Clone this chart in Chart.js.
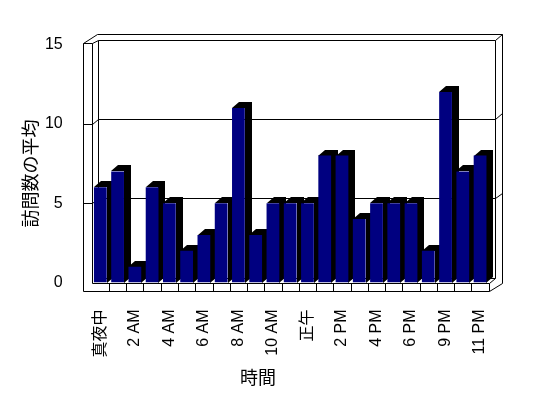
<!DOCTYPE html>
<html>
<head>
<meta charset="utf-8">
<script src="https://cdn.jsdelivr.net/npm/chart.js@4/dist/chart.umd.min.js"></script>
<style>
  body { margin: 0; background: #fff; }
</style>
</head>
<body>
<canvas id="visits" width="548" height="398"></canvas>
<script>
const hours = ['真夜中', '1 AM', '2 AM', '3 AM', '4 AM', '5 AM', '6 AM', '7 AM', '8 AM', '9 AM', '10 AM', '11 AM',
    '正午', '1 PM', '2 PM', '3 PM', '4 PM', '5 PM', '6 PM', '7 PM', '9 PM', '10 PM', '11 PM'];
const avgVisits = [6, 7, 1, 6, 5, 2, 3, 5, 11, 3, 5, 5, 5, 8, 8, 4, 5, 5, 5, 2, 12, 7, 8];
const yTicks = [0, 5, 10, 15];
const xTitle = '時間';
const yTitle = '訪問数の平均';

const tickFont = "'Liberation Sans', 'Noto Sans CJK JP', sans-serif";

function px(v) {
    return Math.round(v) + 0.5;
}

// excel-style 3d walls, floor and bar sides
const frame3d = {
    id: 'frame3d',
    beforeDatasetsDraw(chart) {
        let ctx = chart.ctx;
        let y = chart.scales.y;
        let L = chart.chartArea.left, R = chart.chartArea.right;
        let B = y.getPixelForValue(0), T = y.getPixelForValue(15);
        let dx = 6.5, dy = -5, ox = 13, oy = -10.5, wl = 8.7, fl = 8.5;

        function line(pts) {
            ctx.beginPath();
            pts.forEach(function (p, i) {
                if (i === 0) ctx.moveTo(px(p[0]), px(p[1]));
                else ctx.lineTo(px(p[0]), px(p[1]));
            });
            ctx.stroke();
        }

        ctx.save();
        ctx.strokeStyle = '#000';
        ctx.lineWidth = 1;

        // left wall
        line([[L - wl, B + fl], [L - wl, T - 1.5], [L, T - 1.5], [L, B]]);
        line([[L - wl, T - 1.5], [L + 5, T + oy], [R + ox, T + oy], [R + ox, B], [R, B + fl], [L - wl, B + fl]]);
        // back wall inner face
        line([[L, T - 1.5], [L + dx, T + dy], [R + dx, T + dy], [R + ox, T + oy]]);
        line([[L + dx, T + dy], [L + dx, B + dy], [R + dx, B + dy], [R + dx, T + dy]]);
        line([[R, B], [R + dx, B + dy]]);

        // gridlines
        yTicks.slice(1, -1).forEach(function (v) {
            let g = y.getPixelForValue(v);
            line([[L - wl, g], [L, g], [L + dx, g + dy], [R + dx, g + dy], [R + ox, g + oy]]);
        });

        // floor front face with cells
        line([[L, B], [R, B], [R, B + fl]]);
        let cw = (R - L) / hours.length;
        for (let i = 1; i < hours.length; i++) {
            line([[L + i * cw, B], [L + i * cw, B + fl]]);
        }

        // bar sides and tops
        let bdx = 7, bdy = -6;
        ctx.fillStyle = '#000';
        chart.getDatasetMeta(0).data.forEach(function (bar) {
            let xl = Math.round(bar.x - bar.width / 2), xr = Math.round(bar.x + bar.width / 2);
            let top = Math.round(bar.y), bottom = Math.round(bar.base);
            ctx.beginPath();
            ctx.moveTo(xr, bottom);
            ctx.lineTo(xr, top);
            ctx.lineTo(xl, top);
            ctx.lineTo(xl + bdx, top + bdy);
            ctx.lineTo(xr + bdx, top + bdy);
            ctx.lineTo(xr + bdx, bottom + bdy);
            ctx.closePath();
            ctx.fill();
        });
        ctx.restore();
    },
    afterDraw(chart) {
        let ctx = chart.ctx;
        ctx.save();
        ctx.fillStyle = '#000';
        ctx.font = "18px 'Noto Sans CJK JP'";
        ctx.textAlign = 'center';
        ctx.textBaseline = 'middle';
        ctx.fillText(xTitle, 258, 377);
        ctx.translate(30, 173.5);
        ctx.rotate(-Math.PI / 2);
        ctx.fillText(yTitle, 0, 0);
        ctx.restore();
    }
};

let visitsChart = new Chart(document.getElementById('visits'), {
    type: 'bar',
    data: {
        labels: hours,
        datasets: [{
            label: yTitle,
            data: avgVisits,
            backgroundColor: '#000080',
            borderWidth: 0,
            categoryPercentage: 1,
            barPercentage: 0.74
        }]
    },
    options: {
        responsive: false,
        animation: false,
        devicePixelRatio: 1,
        layout: {
            padding: {left: 0, top: 44.5, right: 59.3, bottom: 0}
        },
        plugins: {
            legend: {display: false},
            tooltip: {enabled: false}
        },
        scales: {
            x: {
                grid: {display: false},
                border: {display: false},
                ticks: {
                    autoSkip: false,
                    maxRotation: 90,
                    minRotation: 90,
                    padding: 19,
                    color: '#000',
                    font: {family: tickFont, size: 16},
                    callback: function (value, index) {
                        return index % 2 === 0 ? hours[index] : '';
                    }
                },
                afterFit: function (scale) {
                    scale.height = 115.5;
                }
            },
            y: {
                min: 0,
                max: 15,
                grid: {display: false},
                border: {display: false},
                ticks: {
                    stepSize: 5,
                    padding: 21,
                    color: '#000',
                    font: {family: tickFont, size: 16}
                },
                afterFit: function (scale) {
                    scale.width = 91.7;
                }
            }
        }
    },
    plugins: [frame3d]
});
</script>
</body>
</html>
